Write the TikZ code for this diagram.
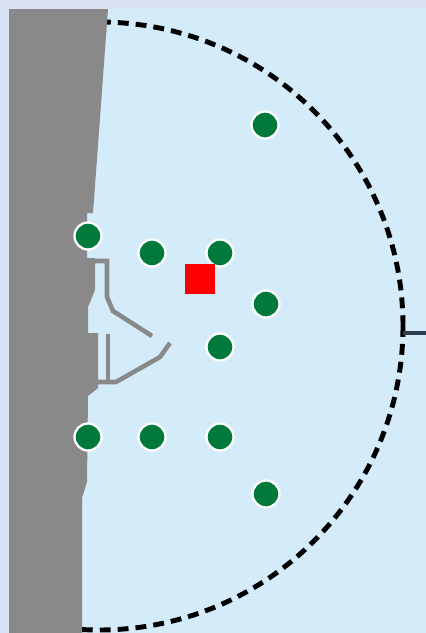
\documentclass[tikz,border=0pt]{standalone}
\usetikzlibrary{positioning}
\definecolor{frame}{HTML}{DAE3F3}
\definecolor{sea}{HTML}{D4EBF9}
\definecolor{land}{HTML}{898989}
\definecolor{tree}{HTML}{007A3A}
\definecolor{wire}{HTML}{2C3E50}

\begin{document}
\begin{tikzpicture}[x=0.02cm, y=-0.02cm,
  spot/.style={circle, fill=tree, draw=white, line width=1.3pt, minimum size=0.54cm, inner sep=0pt},
  target/.style={rectangle, fill=red, minimum size=0.6cm, inner sep=0pt},
  pier/.style={draw=land, line width=2.6pt, line join=miter},
  ring/.style={draw=black, line width=2.8pt, dash pattern=on 6.2pt off 4pt}
]
  % background and water
  \fill[frame] (0,0) rectangle (426,633);
  \fill[sea] (9,9) rectangle (426,633);
  \useasboundingbox (0,0) rectangle (426,633);

  % range ring
  \begin{scope}
    \clip (9,9) rectangle (426,633);
    \draw[ring] (99,326) circle[radius=304];
  \end{scope}

  % coast
  \fill[land] (9,9) -- (108,9) -- (93,213) -- (87,213) -- (87,258) -- (95,258)
    -- (95,290) -- (88,307) -- (88,333) -- (98,333) -- (98,388) -- (88,396)
    -- (87,482) -- (82,498) -- (82,633) -- (9,633) -- cycle;

  % piers
  \draw[pier] (93,261) -- (107,261) -- (107,297) -- (113,311) -- (152,336);
  \draw[pier] (96,382) -- (116,382) -- (160,357) -- (170,343);
  \draw[pier] (108,334) -- (108,382);

  % link to the right
  \coordinate (tap) at (403,333);
  \coordinate (out) at (426,333);
  \draw[wire, line width=2pt] (tap) -- (out);

  % stations
  \node[spot] (s1) at (265,125) {};
  \node[spot] (s2) at (88,236) {};
  \node[spot] (s3) at (152,253) {};
  \node[spot] (s4) at (220,253) {};
  \node[spot] (s5) at (266,304) {};
  \node[spot] (s6) at (220,347) {};
  \node[spot] (s7) at (88,437) {};
  \node[spot] (s8) at (152,437) {};
  \node[spot] (s9) at (220,437) {};
  \node[spot] (s10) at (266,494) {};

  \node[target] (goal) at (200,279) {};
\end{tikzpicture}
\end{document}
